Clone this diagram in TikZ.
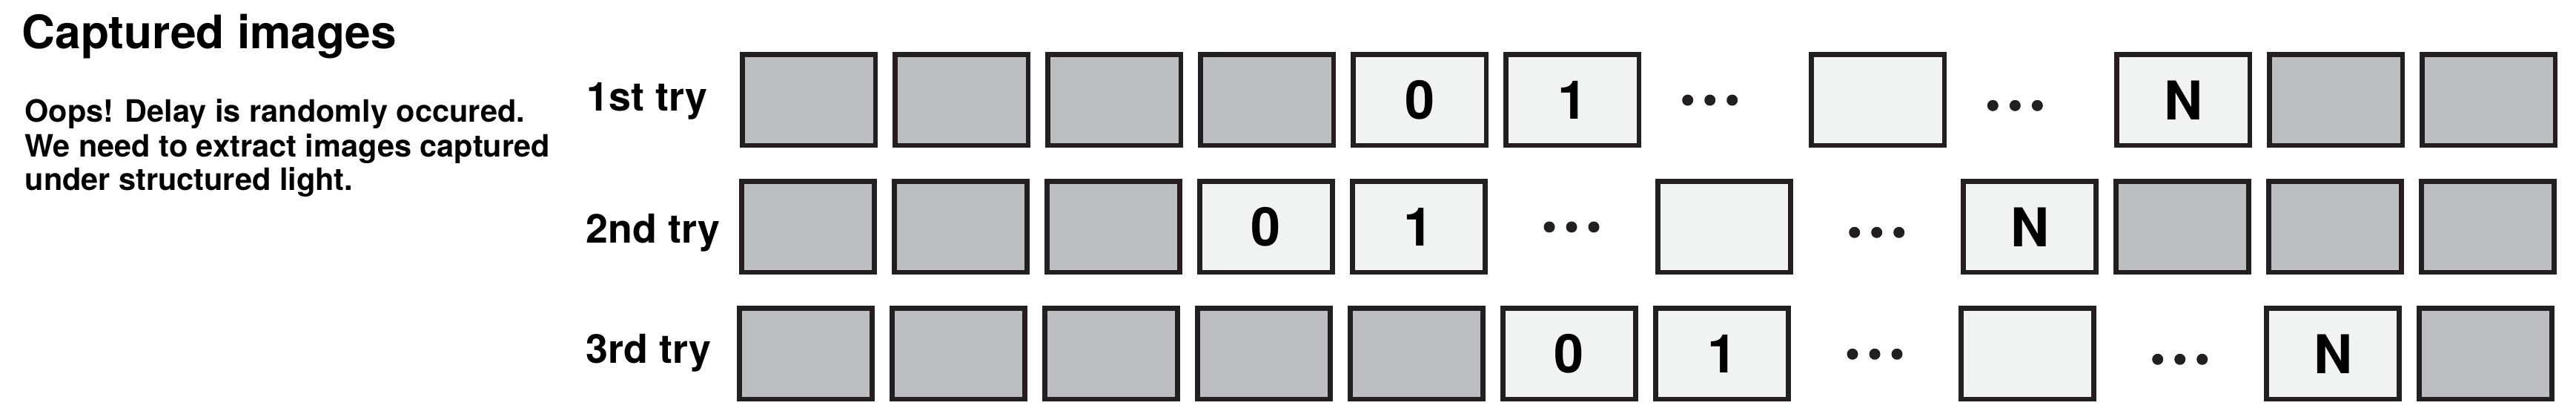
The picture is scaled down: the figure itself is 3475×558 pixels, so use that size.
\documentclass[tikz,border=0pt]{standalone}
\usepackage{fontspec}
\setmainfont{TeX Gyre Heros}
\definecolor{imgframe}{HTML}{231F20}
\definecolor{imggray}{HTML}{BCBEC0}
\definecolor{imglight}{HTML}{F1F2F2}
\tikzset{
  img/.style={draw=imgframe, line width=0.67mm, minimum width=17.93mm, minimum height=12.23mm, inner sep=0pt, font=\fontsize{20.5}{24}\bfseries},
  grayimg/.style={img, fill=imggray},
  lightimg/.style={img, fill=imglight},
  dot/.style={circle, fill=imgframe, inner sep=0pt, minimum size=1.5mm},
  txt/.style={anchor=base west, inner sep=0pt},
}
\newcommand{\skipdots}[3]{%
  \node[dot] (#1a) at ({#2-30},#3) {};
  \node[dot] (#1b) at (#2,#3) {};
  \node[dot] (#1c) at ({#2+30},#3) {};
}

\begin{document}
\begin{tikzpicture}[x=0.1mm,y=-0.1mm]
    \useasboundingbox (0,0) rectangle (3475,558);
    \node[txt, font=\fontsize{17.7}{21}\bfseries] (title) at (29,66) {Captured images};
    \node[txt, font=\fontsize{11.8}{13}\bfseries] (note1) at (33,165) {Oops! Delay is randomly occured.};
    \node[txt, font=\fontsize{11.8}{13}\bfseries] (note2) at (33,212) {We need to extract images captured};
    \node[txt, font=\fontsize{11.8}{13}\bfseries] (note3) at (33,257) {under structured light.};
    % 1st try
    \node[txt, font=\fontsize{15.3}{18}\bfseries] (try1) at (791,150) {1st try};
    \foreach \i in {0,...,3} \node[grayimg] (a\i) at ({1091.3+206*\i},134.8) {};
    \node[lightimg] (a4) at (1915.3,134.8) {0};
    \node[lightimg] (a5) at (2121.3,134.8) {1};
    \skipdots{a6}{2306.7}{135}
    \node[lightimg] (a7) at (2533.3,134.8) {};
    \skipdots{a8}{2718.3}{142.3}
    \node[lightimg] (a9) at (2945.3,134.8) {N};
    \foreach \i in {10,11} \node[grayimg] (a\i) at ({1091.3+206*\i},134.8) {};
    % 2nd try
    \node[txt, font=\fontsize{15.3}{18}\bfseries] (try2) at (790,328) {2nd try};
    \foreach \i in {0,...,2} \node[grayimg] (b\i) at ({1090+206*\i},305.8) {};
    \node[lightimg] (b3) at (1708,305.8) {0};
    \node[lightimg] (b4) at (1914,305.8) {1};
    \skipdots{b5}{2120}{306}
    \node[lightimg] (b6) at (2326,305.8) {};
    \skipdots{b7}{2531.7}{313.3}
    \node[lightimg] (b8) at (2738,305.8) {N};
    \foreach \i in {9,...,11} \node[grayimg] (b\i) at ({1090+206*\i},305.8) {};
    % 3rd try
    \node[txt, font=\fontsize{15.3}{18}\bfseries] (try3) at (790,490) {3rd try};
    \foreach \i in {0,...,4} \node[grayimg] (c\i) at ({1087+206*\i},476.8) {};
    \node[lightimg] (c5) at (2117,476.8) {0};
    \node[lightimg] (c6) at (2323,476.8) {1};
    \skipdots{c7}{2529}{477.3}
    \node[lightimg] (c8) at (2735,476.8) {};
    \skipdots{c9}{2940.7}{484.3}
    \node[lightimg] (c10) at (3147,476.8) {N};
    \node[grayimg] (c11) at (3353,476.8) {};
\end{tikzpicture}
\end{document}
